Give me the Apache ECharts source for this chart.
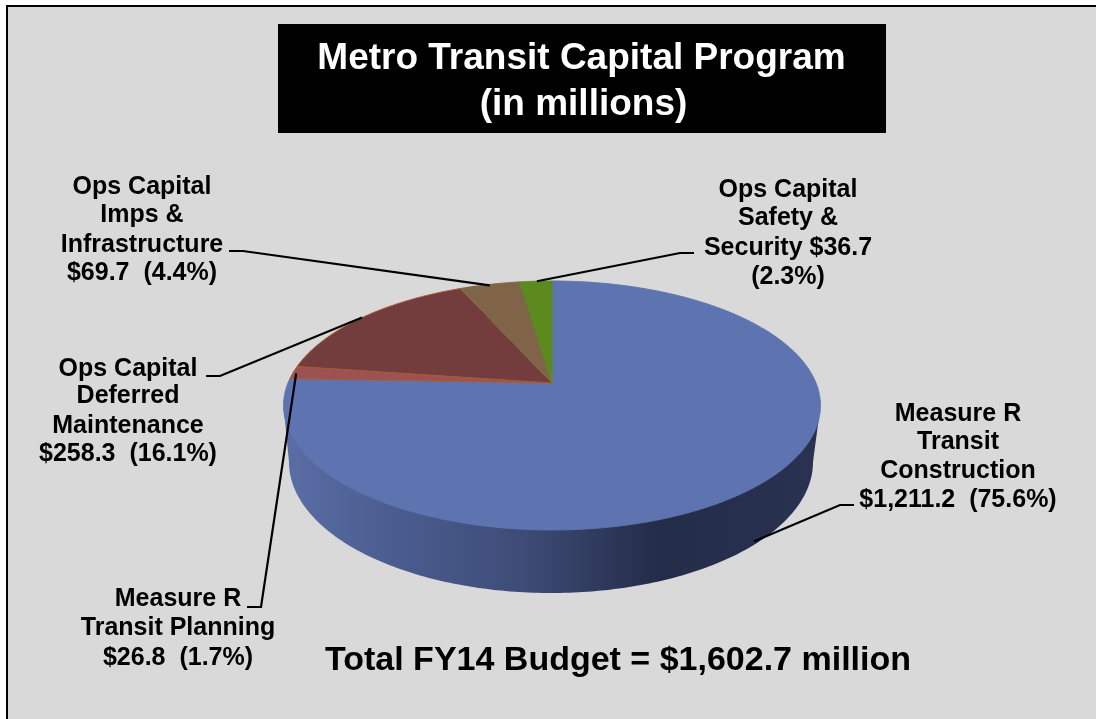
<!DOCTYPE html>
<html><head><meta charset="utf-8">
<script src="https://cdn.jsdelivr.net/npm/echarts@6/dist/echarts.min.js"></script>
<style>html,body{margin:0;padding:0;background:#fff}#c{width:1096px;height:719px}</style></head>
<body><div id="c"></div>
<script>
// ---- data (clockwise from 12 o'clock) ----
const categories = ['Measure R Transit Construction','Measure R Transit Planning','Ops Capital Deferred Maintenance','Ops Capital Imps & Infrastructure','Ops Capital Safety & Security'];
const budgetValues = [1211.2, 26.8, 258.3, 69.7, 36.7];
const sliceColors = ['#5d74b0','#9c5252','#733c3d','#806447','#5c8a1f'];
const sliceEdges = ['#5d74b0','#a85c35','#a85c35','#806447','#5c8a1f'];
const labelLines = [
  ['Measure R','Transit','Construction','$1,211.2  (75.6%)'],
  ['Measure R','Transit Planning','$26.8  (1.7%)'],
  ['Ops Capital','Deferred','Maintenance','$258.3  (16.1%)'],
  ['Ops Capital','Imps &','Infrastructure','$69.7  (4.4%)'],
  ['Ops Capital','Safety &','Security $36.7','(2.3%)']
];
const titleLines = ['Metro Transit Capital Program','(in millions)'];
const totalText = 'Total FY14 Budget = $1,602.7 million';

// ---- layout (pixels) ----
const labelLayout = [
  {x:958, ys:[414,442,471,500], elbow:[[854,505],[840,505]], nudge:[-9,-4], wall:true},
  {x:178, ys:[599,628,658],     elbow:[[247,607],[261,607]], nudge:[3,1]},
  {x:128, ys:[369,396,426,454], elbow:[[206,376],[220,376]], nudge:[0,0]},
  {x:142, ys:[187,215,245,273], elbow:[[229,251],[243,251]], nudge:[0,1]},
  {x:788, ys:[190,218,248,277], elbow:[[694,253],[680,253]], nudge:[1,0]}
];
const FONT = '"Liberation Sans", Arial, sans-serif';
const LABEL_SIZE = 25;

// ---- projection: tilted disc, apex above the ellipse centre ----
const K = 0.1807, A = 120.4, C = 264, DEPTH = 63;
function rim(deg, r, drop) {
  const t = deg * Math.PI / 180, X = r * Math.sin(t), Y = r * Math.cos(t), w = 1 + K * Y;
  return [C * X / w, A * Y / w - (drop || 0)];
}
const total = budgetValues.reduce((a, b) => a + b, 0);
const starts = [];
budgetValues.reduce((acc, v, i) => (starts[i] = acc, acc + v), 0);
const angle = v => v / total * 360;

function slices(params, api) {
  const i = params.dataIndex;
  const a0 = angle(starts[i]), a1 = a0 + angle(budgetValues[i]);
  const pts = [api.coord([0, 0])];
  const n = Math.max(4, Math.ceil((a1 - a0) / 0.5));
  for (let k = 0; k <= n; k++) pts.push(api.coord(rim(a0 + (a1 - a0) * k / n, 1)));
  const children = [];
  if (i === 0) {
    const wall = [api.coord([-268.5, -22.5])];
    for (let d = 180; d <= 360; d += 1) {
      const t = d * Math.PI / 180;
      wall.push(api.coord([-1 + 262 * Math.cos(t), -79 + 131 * Math.sin(t)]));
    }
    wall.push(api.coord([268.5, -22.5]));
    children.push({type:'polygon', shape:{points:wall}, style:{
      fill:{type:'linear',x:0,y:0,x2:1,y2:0,colorStops:[
        {offset:0,color:'#5a6ea6'},{offset:.2,color:'#4b5d90'},{offset:.45,color:'#3d4b75'},
        {offset:.7,color:'#232c49'},{offset:1,color:'#2a3252'}]}}});
  }
  children.push({type:'polygon', shape:{points:pts}, style:{fill:sliceColors[i], stroke:sliceEdges[i], lineWidth:1}});
  return {type:'group', children};
}

function labels(params, api) {
  const i = params.dataIndex, L = labelLayout[i];
  const mid = angle(starts[i]) + angle(budgetValues[i]) / 2;
  const a = api.coord(rim(mid, 1, L.wall ? DEPTH : 0));
  const anchor = [a[0] + L.nudge[0], a[1] + L.nudge[1]];
  const children = [{type:'polyline', shape:{points:[L.elbow[0], L.elbow[1], anchor]},
    style:{fill:null, stroke:'#000', lineWidth:2.2}}];
  labelLines[i].forEach((t, k) => children.push({type:'text', style:{
    text:t, x:L.x, y:L.ys[k], align:'center', verticalAlign:'middle',
    font:'bold '+LABEL_SIZE+'px '+FONT, fill:'#000'}}));
  return {type:'group', children};
}

const chart = echarts.init(document.getElementById('c'), null, {renderer:'canvas'});
chart.setOption({
  animation:false,
  backgroundColor:'#fff',
  grid:{left:283.5, width:537, top:281, height:312, containLabel:false},
  xAxis:{type:'value', min:-268.5, max:268.5, show:false},
  yAxis:{type:'value', min:-210, max:102, show:false},
  graphic:[
    {type:'rect', z:-10, shape:{x:7,y:6,width:1100,height:720}, style:{fill:'#d9d9d9', stroke:'#000', lineWidth:2}},
    {type:'rect', z:-9, shape:{x:278,y:24,width:608,height:109}, style:{fill:'#000'}},
    {type:'text', z:-8, style:{text:titleLines[0], x:581.5, y:59, align:'center', verticalAlign:'middle', font:'bold 37px '+FONT, fill:'#fff'}},
    {type:'text', z:-8, style:{text:titleLines[1], x:583.5, y:105, align:'center', verticalAlign:'middle', font:'bold 37px '+FONT, fill:'#fff'}},
    {type:'text', z:-8, style:{text:totalText, x:618, y:661, align:'center', verticalAlign:'middle', font:'bold 34px '+FONT, fill:'#000'}}
  ],
  series:[
    {type:'custom', name:'slices', coordinateSystem:'cartesian2d', silent:true, clip:false, z:2,
     data:categories.map((c,i)=>({name:c, value:[i, budgetValues[i]]})), renderItem:slices},
    {type:'custom', name:'labels', coordinateSystem:'cartesian2d', silent:true, clip:false, z:3,
     data:categories.map((c,i)=>({name:c, value:[i, budgetValues[i]]})), renderItem:labels}
  ]
});
</script></body></html>
